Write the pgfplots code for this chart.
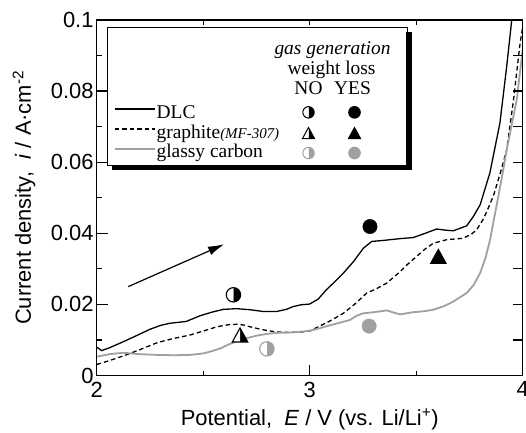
\documentclass[border=0pt]{standalone}
\usepackage{fontspec}
\setmainfont{Liberation Serif}
\setsansfont{Liberation Sans}
\usepackage{pgfplots}
\pgfplotsset{compat=1.18}
\usetikzlibrary{arrows.meta}

\definecolor{gc}{RGB}{160,160,160}

% circle, right half in fill colour, left half white
\pgfdeclareplotmark{hcirc}{%
  \pgfpathmoveto{\pgfqpoint{0pt}{\pgfplotmarksize}}%
  \pgfpatharc{90}{-90}{\pgfplotmarksize}%
  \pgfpathclose
  \pgfusepathqfill
  \begin{pgfscope}%
    \pgfsetfillcolor{white}%
    \pgfpathmoveto{\pgfqpoint{0pt}{\pgfplotmarksize}}%
    \pgfpatharc{90}{270}{\pgfplotmarksize}%
    \pgfpathclose
    \pgfusepathqfill
  \end{pgfscope}%
  \pgfpathcircle{\pgfpointorigin}{\pgfplotmarksize}%
  \pgfusepathqstroke
}
% filled triangle
\pgfdeclareplotmark{tri}{%
  \pgfpathmoveto{\pgfqpoint{0pt}{\pgfplotmarksize}}%
  \pgfpathlineto{\pgfqpoint{1.1\pgfplotmarksize}{-\pgfplotmarksize}}%
  \pgfpathlineto{\pgfqpoint{-1.1\pgfplotmarksize}{-\pgfplotmarksize}}%
  \pgfpathclose
  \pgfusepathqfillstroke
}
% triangle, right half filled
\pgfdeclareplotmark{htri}{%
  \pgfpathmoveto{\pgfqpoint{0pt}{\pgfplotmarksize}}%
  \pgfpathlineto{\pgfqpoint{1.1\pgfplotmarksize}{-\pgfplotmarksize}}%
  \pgfpathlineto{\pgfqpoint{0pt}{-\pgfplotmarksize}}%
  \pgfpathclose
  \pgfusepathqfill
  \begin{pgfscope}%
    \pgfsetfillcolor{white}%
    \pgfpathmoveto{\pgfqpoint{0pt}{\pgfplotmarksize}}%
    \pgfpathlineto{\pgfqpoint{-1.1\pgfplotmarksize}{-\pgfplotmarksize}}%
    \pgfpathlineto{\pgfqpoint{0pt}{-\pgfplotmarksize}}%
    \pgfpathclose
    \pgfusepathqfill
  \end{pgfscope}%
  \pgfpathmoveto{\pgfqpoint{0pt}{\pgfplotmarksize}}%
  \pgfpathlineto{\pgfqpoint{1.1\pgfplotmarksize}{-\pgfplotmarksize}}%
  \pgfpathlineto{\pgfqpoint{-1.1\pgfplotmarksize}{-\pgfplotmarksize}}%
  \pgfpathclose
  \pgfusepathqstroke
}

\newcommand{\lgfont}{\fontsize{19.5}{22}\selectfont}

\begin{document}
\begin{tikzpicture}
\begin{axis}[
  name=ax,
  scale only axis, width=426bp, height=355.5bp,
  xmin=2, xmax=4, ymin=0, ymax=0.1,
  xtick={2,3,4}, minor xtick={2.5,3.5},
  ytick={0,0.02,0.04,0.06,0.08,0.1},
  minor ytick={0.01,0.03,0.05,0.07,0.09},
  xtick pos=left, ytick pos=left, tick align=inside,
  major tick length=11bp, minor tick length=5bp,
  axis line style={line width=1.3bp},
  every tick/.style={black, line width=1.2bp},
  scaled y ticks=false,
  /pgf/number format/assume math mode=true,
  ticklabel style={font=\sffamily\fontsize{22}{24}\selectfont},
  yticklabel style={/pgf/number format/fixed, /pgf/number format/precision=2, inner xsep=3bp},
  xticklabel style={inner ysep=6bp},
  xlabel={Potential,~ \textit{E} / V (vs. Li/Li\textsuperscript{+})},
  ylabel={Current density,~ \textit{i} / A·cm\textsuperscript{-2}},
  label style={font=\sffamily\fontsize{22}{24}\selectfont},
  xlabel style={at={([yshift=-49.5bp]axis description cs:0.5,0)}, anchor=base},
  ylabel style={at={([xshift=-65.7bp]axis description cs:0,0.5)}, anchor=base},
  legend cell align=left,
  legend style={at={(0.0242,0.9803)}, anchor=north west, draw=black,
    line width=1.2bp, fill=white, inner xsep=6bp, inner ysep=3bp,
    nodes={inner sep=0pt}, font=\lgfont},
]
% DLC
\addplot[black, line width=1.3bp, forget plot] coordinates {
 (2.000,0.0080) (2.023,0.0070) (2.060,0.0078) (2.125,0.0095) (2.190,0.0113)
 (2.250,0.0130) (2.300,0.0141) (2.344,0.0147) (2.420,0.0152) (2.485,0.0168)
 (2.540,0.0178) (2.594,0.0186) (2.657,0.0188) (2.720,0.0185) (2.782,0.0180)
 (2.845,0.0180) (2.890,0.0186) (2.923,0.0194) (2.960,0.0199) (3.000,0.0201)
 (3.040,0.0215) (3.078,0.0241) (3.120,0.0265) (3.158,0.0288) (3.205,0.0320)
 (3.252,0.0358) (3.291,0.0377) (3.346,0.0380) (3.424,0.0385) (3.486,0.0388)
 (3.533,0.0398) (3.596,0.0412) (3.635,0.0409) (3.674,0.0407) (3.737,0.0421)
 (3.768,0.0447) (3.800,0.0480) (3.846,0.0570) (3.893,0.0710) (3.925,0.0870)
 (3.948,0.0997) (3.952,0.1020)
};
% graphite (MF-307)
\addplot[black, line width=1.3bp, dash pattern=on 4.5bp off 3bp, forget plot] coordinates {
 (2.000,0.0031) (2.060,0.0042) (2.125,0.0055) (2.200,0.0072) (2.282,0.0092)
 (2.360,0.0104) (2.439,0.0114) (2.500,0.0125) (2.564,0.0137) (2.620,0.0143)
 (2.657,0.0144) (2.690,0.0142) (2.720,0.0137) (2.770,0.0130) (2.814,0.0125)
 (2.860,0.0122) (2.907,0.0121) (2.954,0.0122) (3.000,0.0125) (3.047,0.0139)
 (3.100,0.0155) (3.158,0.0175) (3.210,0.0200) (3.268,0.0232) (3.310,0.0243)
 (3.362,0.0260) (3.424,0.0292) (3.460,0.0313) (3.502,0.0335) (3.540,0.0355)
 (3.580,0.0372) (3.643,0.0382) (3.720,0.0386) (3.760,0.0398) (3.784,0.0410)
 (3.815,0.0440) (3.845,0.0480) (3.865,0.0510) (3.900,0.0580) (3.925,0.0635)
 (3.957,0.0776) (3.988,0.0936) (4.000,0.0980)
};
% glassy carbon
\addplot[gc, line width=1.8bp, forget plot] coordinates {
 (2.000,0.0053) (2.060,0.0060) (2.125,0.0064) (2.200,0.0060) (2.282,0.0058)
 (2.360,0.0057) (2.439,0.0058) (2.500,0.0062) (2.532,0.0067) (2.580,0.0076)
 (2.626,0.0089) (2.664,0.0098) (2.704,0.0105) (2.750,0.0112) (2.798,0.0117)
 (2.850,0.0120) (2.907,0.0121) (2.954,0.0123) (3.000,0.0126) (3.047,0.0133)
 (3.100,0.0142) (3.188,0.0156) (3.220,0.0168) (3.252,0.0175) (3.300,0.0178)
 (3.362,0.0183) (3.400,0.0176) (3.424,0.0172) (3.486,0.0178) (3.540,0.0181)
 (3.580,0.0185) (3.630,0.0195) (3.674,0.0208) (3.737,0.0232) (3.770,0.0255)
 (3.800,0.0288) (3.825,0.0330) (3.847,0.0382) (3.865,0.0440) (3.878,0.0480)
 (3.900,0.0550) (3.925,0.0635) (3.950,0.0710) (3.972,0.0776) (4.000,0.0917)
};
% sweep direction
\addplot[black, line width=1.2bp, -{Latex[length=16bp,width=9bp]}, forget plot]
  coordinates {(2.148,0.0250) (2.598,0.0369)};
% gas generation / weight loss points
\addplot[only marks, mark=hcirc, mark size=7.2bp, forget plot,
  mark options={draw=black, fill=black, line width=1.1bp}] coordinates {(2.642,0.0227)};
\addplot[only marks, mark=*, mark size=7.2bp, forget plot,
  mark options={draw=black, fill=black}] coordinates {(3.283,0.0419)};
\addplot[only marks, mark=htri, mark size=7bp, forget plot,
  mark options={draw=black, fill=black, line width=1.1bp}] coordinates {(2.673,0.0114)};
\addplot[only marks, mark=tri, mark size=7bp, forget plot,
  mark options={draw=black, fill=black, line width=1.1bp}] coordinates {(3.604,0.0335)};
\addplot[only marks, mark=hcirc, mark size=7.2bp, forget plot,
  mark options={draw=gc, fill=gc, line width=1.1bp}] coordinates {(2.799,0.0075)};
\addplot[only marks, mark=*, mark size=7.2bp, forget plot,
  mark options={draw=gc, fill=gc}] coordinates {(3.279,0.0139)};

% legend: one entry whose image holds the whole table
\addlegendimage{legend image code/.code={%
  \path[draw=none, fill=none] (0bp,0bp) rectangle (286bp,-131bp);
  % shadow of the legend box (right and bottom)
  \fill[black, overlay] (292bp,-1bp) rectangle (296.5bp,-138.5bp);
  \fill[black, overlay] (-2bp,-134bp) rectangle (296.5bp,-138.5bp);
  \node[anchor=base, inner sep=0pt, font=\lgfont\itshape] at (218bp,-23.3bp) {gas generation};
  \node[anchor=base, inner sep=0pt, font=\lgfont] at (217bp,-42.7bp) {weight loss};
  \node[anchor=base, inner sep=0pt, font=\lgfont] at (194bp,-62.7bp) {NO};
  \node[anchor=base, inner sep=0pt, font=\lgfont] at (238bp,-62.7bp) {YES};
  % DLC
  \draw[black, line width=1.2bp] (0bp,-77.7bp) -- (40bp,-77.7bp);
  \node[anchor=base west, inner sep=0pt, font=\lgfont] at (41.5bp,-86.7bp) {DLC};
  \draw plot[only marks, mark=hcirc, mark size=5.7bp,
    mark options={draw=black, fill=black, line width=1bp}] coordinates {(194bp,-81bp)};
  \draw plot[only marks, mark=*, mark size=5.7bp,
    mark options={draw=black, fill=black}] coordinates {(240bp,-81bp)};
  % graphite
  \draw[black, line width=1.2bp, dash pattern=on 4.5bp off 3bp] (0bp,-97.7bp) -- (40bp,-97.7bp);
  \node[anchor=base west, inner sep=0pt, font=\lgfont] at (41.5bp,-106.7bp)
    {graphite{\fontsize{15}{17}\selectfont\itshape(MF-307)}};
  \draw plot[only marks, mark=htri, mark size=5.5bp,
    mark options={draw=black, fill=black, line width=1bp}] coordinates {(194bp,-101.7bp)};
  \draw plot[only marks, mark=tri, mark size=5.5bp,
    mark options={draw=black, fill=black, line width=1bp}] coordinates {(240bp,-101.7bp)};
  % glassy carbon
  \draw[gc, line width=1.8bp] (0bp,-117.7bp) -- (40bp,-117.7bp);
  \node[anchor=base west, inner sep=0pt, font=\lgfont] at (41.5bp,-126bp) {glassy carbon};
  \draw plot[only marks, mark=hcirc, mark size=5.7bp,
    mark options={draw=gc, fill=gc, line width=1bp}] coordinates {(194bp,-121.7bp)};
  \draw plot[only marks, mark=*, mark size=5.7bp,
    mark options={draw=gc, fill=gc}] coordinates {(240bp,-121.7bp)};
}}
\addlegendentry{\hbox{}}
\end{axis}
% top ticks
\begin{axis}[
  scale only axis, width=426bp, height=355.5bp,
  xmin=2, xmax=4, ymin=0, ymax=0.1,
  xtick={2.5,3,3.5}, ytick=\empty, xticklabels={},
  xtick pos=right, tick align=inside, major tick length=5bp,
  axis line style={line width=1.3bp},
  every tick/.style={black, line width=1.2bp},
]
\end{axis}
% right ticks
\begin{axis}[
  scale only axis, width=426bp, height=355.5bp,
  xmin=2, xmax=4, ymin=0, ymax=0.1,
  xtick=\empty, ytick={0.01,0.02,0.03,0.04,0.05,0.06,0.07,0.08,0.09}, yticklabels={},
  ytick pos=right, tick align=inside, major tick length=10bp,
  axis line style={line width=1.3bp},
  every tick/.style={black, line width=1.2bp},
]
\end{axis}
\pgfresetboundingbox
\path ([xshift=-96.7bp,yshift=-57.5bp]ax.south west) rectangle ([xshift=3.3bp,yshift=20bp]ax.north east);
\end{tikzpicture}
\end{document}
